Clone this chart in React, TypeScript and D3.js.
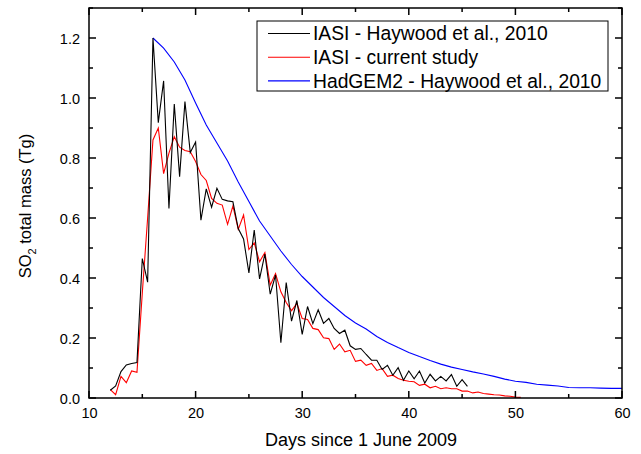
import React, { useEffect, useRef } from 'react'
import * as d3 from 'd3'

// IASI - Haywood et al., 2010 (twice daily, from day 12.0)
const iasiHaywoodStart = 12
const iasiHaywood = [
  0.026, 0.04, 0.088, 0.11, 0.115, 0.118, 0.465, 0.386, 1.2, 0.918, 1.057, 0.632,
  0.98, 0.738, 0.988, 0.818, 0.853, 0.593, 0.697, 0.636, 0.699, 0.662, 0.657, 0.654,
  0.565, 0.53, 0.417, 0.56, 0.397, 0.48, 0.346, 0.41, 0.184, 0.385, 0.256, 0.325,
  0.212, 0.305, 0.248, 0.294, 0.249, 0.265, 0.232, 0.215, 0.226, 0.174, 0.162, 0.165,
  0.145, 0.126, 0.126, 0.095, 0.109, 0.076, 0.101, 0.059, 0.09, 0.064, 0.09, 0.05,
  0.079, 0.057, 0.072, 0.057, 0.078, 0.039, 0.061, 0.039,
]

// IASI - current study (twice daily, from day 12.0)
const iasiCurrentStart = 12
const iasiCurrent = [
  0.028, 0.011, 0.072, 0.051, 0.09, 0.086, 0.35, 0.6, 0.86, 0.9, 0.748, 0.816,
  0.871, 0.836, 0.825, 0.821, 0.788, 0.745, 0.725, 0.665, 0.649, 0.643, 0.579, 0.64,
  0.562, 0.61, 0.495, 0.517, 0.454, 0.485, 0.376, 0.415, 0.354, 0.318, 0.291, 0.315,
  0.265, 0.262, 0.232, 0.228, 0.201, 0.198, 0.162, 0.18, 0.154, 0.159, 0.122, 0.126,
  0.109, 0.115, 0.092, 0.098, 0.072, 0.076, 0.065, 0.059, 0.056, 0.054, 0.042, 0.046,
  0.034, 0.039, 0.031, 0.034, 0.031, 0.031, 0.023, 0.023, 0.017, 0.02, 0.015, 0.013,
  0.011, 0.01, 0.007, 0.006, 0.003, 0.002,
]

// HadGEM2 - Haywood et al., 2010 (daily, from day 16)
const hadgemStart = 16
const hadgem = [
  1.2, 1.166, 1.12, 1.06, 0.983, 0.91, 0.85, 0.79, 0.72, 0.655, 0.59, 0.54, 0.49,
  0.445, 0.405, 0.37, 0.335, 0.305, 0.275, 0.25, 0.23, 0.205, 0.185, 0.168, 0.152,
  0.138, 0.125, 0.113, 0.103, 0.095, 0.087, 0.08, 0.072, 0.063, 0.056, 0.052, 0.046,
  0.043, 0.04, 0.035, 0.034, 0.034, 0.033, 0.032, 0.032,
]

const xTicks = [10, 20, 30, 40, 50, 60]
const yTicks = [0, 0.2, 0.4, 0.6, 0.8, 1.0, 1.2]

const legendItems = [
  { label: 'IASI - Haywood et al., 2010', color: '#000000' },
  { label: 'IASI - current study', color: '#ff0000' },
  { label: 'HadGEM2 - Haywood et al., 2010', color: '#0000ff' },
]

const FONT = '"Liberation Sans", Arial, sans-serif'

const App = () => {
  const refSvg = useRef(null)

  useEffect(() => {
    const svg = d3.select(refSvg.current)
    svg.selectAll('*').remove()

    const left = 89
    const right = 622
    const top = 8
    const bottom = 398

    const x = d3.scaleLinear().domain([10, 60]).range([left, right])
    const y = d3.scaleLinear().domain([0, 1.3]).range([bottom, top])

    const toPoints = (vals, start, step) =>
      vals.map((v, i) => ({ day: start + i * step, v }))

    const line = d3
      .line()
      .x((d) => x(d.day))
      .y((d) => y(d.v))

    const series = [
      { pts: toPoints(hadgem, hadgemStart, 1), color: '#0000ff' },
      { pts: toPoints(iasiCurrent, iasiCurrentStart, 0.5), color: '#ff0000' },
      { pts: toPoints(iasiHaywood, iasiHaywoodStart, 0.5), color: '#000000' },
    ]

    const body = svg.append('g').attr('id', 'body')
    series.forEach((s) => {
      body
        .append('path')
        .datum(s.pts)
        .attr('d', line)
        .attr('fill', 'none')
        .attr('stroke', s.color)
        .attr('stroke-width', 1.1)
        .attr('stroke-linejoin', 'miter')
    })

    // axes: ticks inward on all four sides
    const xMajor = d3.axisBottom(x).tickValues(xTicks).tickSize(0).tickFormat(d3.format('d'))
    const xAxis = svg
      .append('g')
      .attr('transform', `translate(0,${bottom})`)
      .call(xMajor)
    xAxis.select('.domain').remove()
    xAxis
      .selectAll('text')
      .attr('dy', null)
      .attr('y', 20)
      .style('font-family', FONT)
      .style('font-size', '14.5px')
      .attr('fill', '#000')

    const yAxis = svg
      .append('g')
      .attr('transform', `translate(${left},0)`)
      .call(d3.axisLeft(y).tickValues(yTicks).tickSize(0).tickFormat(d3.format('.1f')))
    yAxis.select('.domain').remove()
    yAxis
      .selectAll('text')
      .attr('x', -9)
      .attr('dy', '0.35em')
      .style('font-family', FONT)
      .style('font-size', '14.5px')
      .attr('fill', '#000')

    const ticks = svg.append('g').attr('stroke', '#000').attr('stroke-width', 1.5)
    const xAll = d3.range(10, 60.1, 5)
    const yAll = d3.range(0, 1.301, 0.1)
    xAll.forEach((t, i) => {
      const len = i % 2 === 0 ? 7 : 4
      ticks.append('line').attr('x1', x(t)).attr('x2', x(t)).attr('y1', bottom).attr('y2', bottom - len)
      ticks.append('line').attr('x1', x(t)).attr('x2', x(t)).attr('y1', top).attr('y2', top + len)
    })
    yAll.forEach((t, i) => {
      const len = i % 2 === 0 ? 7 : 4
      ticks.append('line').attr('y1', y(t)).attr('y2', y(t)).attr('x1', left).attr('x2', left + len)
      ticks.append('line').attr('y1', y(t)).attr('y2', y(t)).attr('x1', right).attr('x2', right - len)
    })

    svg
      .append('rect')
      .attr('x', left)
      .attr('y', top)
      .attr('width', right - left)
      .attr('height', bottom - top)
      .attr('fill', 'none')
      .attr('stroke', '#000')
      .attr('stroke-width', 1.5)

    // axis titles
    svg
      .append('text')
      .attr('x', 361)
      .attr('y', 446)
      .attr('text-anchor', 'middle')
      .style('font-family', FONT)
      .style('font-size', '18px')
      .text('Days since 1 June 2009')

    const yl = svg
      .append('text')
      .attr('transform', 'translate(31,206) rotate(-90)')
      .attr('text-anchor', 'middle')
      .style('font-family', FONT)
      .style('font-size', '16.5px')
    yl.append('tspan').text('SO')
    yl.append('tspan').attr('font-size', '11px').attr('dy', 5).text('2')
    yl.append('tspan').attr('dy', -5).text(' total mass (Tg)')

    // legend
    const lg = svg.append('g')
    lg.append('rect')
      .attr('x', 257)
      .attr('y', 21)
      .attr('width', 351)
      .attr('height', 70)
      .attr('fill', '#fff')
      .attr('stroke', '#000')
      .attr('stroke-width', 1)
    legendItems.forEach((d, i) => {
      const cy = 33.5 + i * 23.7
      lg.append('line')
        .attr('x1', 268)
        .attr('x2', 310)
        .attr('y1', cy)
        .attr('y2', cy)
        .attr('stroke', d.color)
        .attr('stroke-width', 1.1)
      lg.append('text')
        .attr('x', 313)
        .attr('y', cy)
        .attr('dy', '0.35em')
        .style('font-family', FONT)
        .style('font-size', '19.3px')
        .text(d.label)
    })
  }, [])

  return (
    <svg
      ref={refSvg}
      width={641}
      height={454}
      style={{ position: 'absolute', left: 0, top: 0, background: '#fff' }}
    ></svg>
  )
}

export default App
